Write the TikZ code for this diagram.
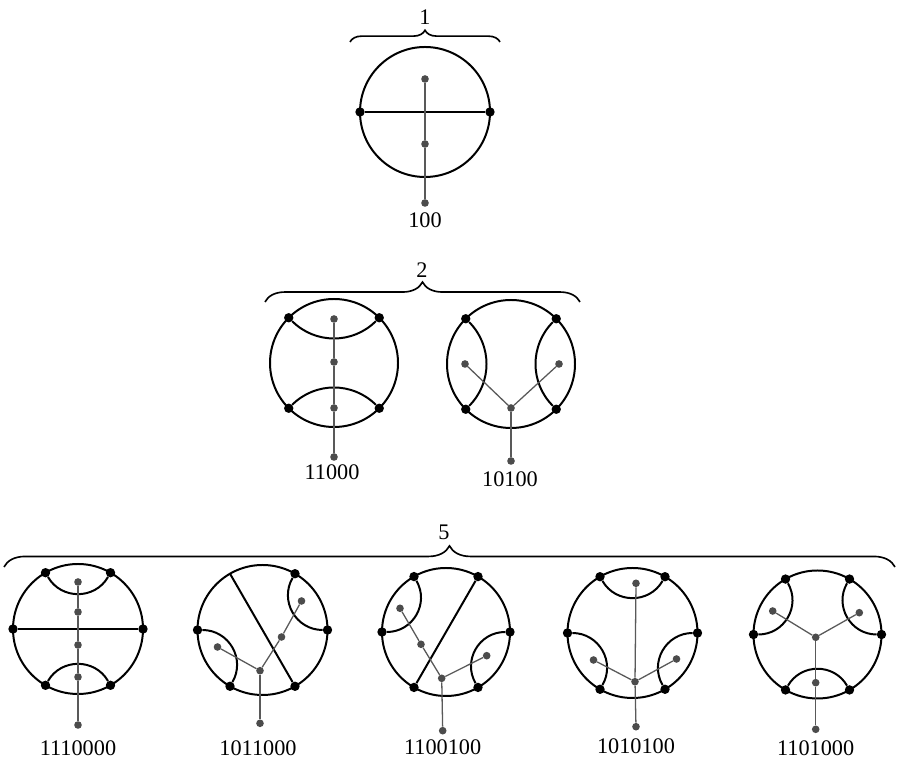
\documentclass[tikz,border=0pt]{standalone}
\usepackage{fontspec}
\setmainfont{Liberation Serif}
\usetikzlibrary{decorations.pathreplacing}

\begin{document}
\begin{tikzpicture}[
  x=0.03cm,y=0.03cm,
  rim/.style={line width=1.7pt},
  spot/.style={circle,fill=black,inner sep=0pt,minimum size=8pt},
  knot/.style={circle,fill=black!70,inner sep=0pt,minimum size=6.5pt},
  twig/.style={black!65,line width=1.1pt},
  codelabel/.style={font=\fontsize{19}{22}\selectfont,inner sep=0pt},
  gather/.style={decorate,line width=1.4pt,decoration={brace,amplitude=#1}},
  geo45/.style={rim,bend left=45},
  geo60/.style={rim,bend left=60,looseness=1.13}
]
  \useasboundingbox (0,0) rectangle (899,763);

  % first row: one diagram
  \coordinate (g1-l) at (350,721);
  \coordinate (g1-r) at (500,721);
  \draw[gather=10pt] (g1-l) -- (g1-r);
  \node[codelabel] (g1) at (425,746) {1};

  \begin{scope}[shift={(425,651)}]
    \draw[rim] (0,0) circle[radius=65];
    \node[spot] (p100-w) at (180:65) {};
    \node[spot] (p100-e) at (0:65) {};
    \node[knot] (p100-up) at (0,33) {};
    \node[knot] (p100-dn) at (0,-32) {};
    \node[knot] (p100-root) at (0,-91) {};
    \node[codelabel] (p100) at (0,-108) {100};
  \end{scope}
  \draw[rim] (p100-w) -- (p100-e);
  \draw[twig] (p100-up) -- (p100-dn) -- (p100-root);

  % second row: two diagrams
  \coordinate (g2-l) at (265,461);
  \coordinate (g2-r) at (580,461);
  \draw[gather=17pt] (g2-l) -- (g2-r);
  \node[codelabel] (g2) at (422,493) {2};

  \begin{scope}[shift={(334,400)}]
    \draw[rim] (0,0) circle[radius=64];
    \node[spot] (p11000-45) at (45:64) {};
    \node[spot] (p11000-135) at (135:64) {};
    \node[spot] (p11000-225) at (225:64) {};
    \node[spot] (p11000-315) at (315:64) {};
    \node[knot] (p11000-a) at (0,44) {};
    \node[knot] (p11000-b) at (0,1) {};
    \node[knot] (p11000-c) at (0,-45) {};
    \node[knot] (p11000-root) at (0,-94) {};
    \node[codelabel] (p11000) at (-2,-109) {11000};
  \end{scope}
  \draw[geo45] (p11000-45) to (p11000-135);
  \draw[geo45] (p11000-225) to (p11000-315);
  \draw[twig] (p11000-a) -- (p11000-b) -- (p11000-c) -- (p11000-root);

  \begin{scope}[shift={(511,399)}]
    \draw[rim] (0,0) circle[radius=64];
    \node[spot] (p10100-45) at (45:64) {};
    \node[spot] (p10100-135) at (135:64) {};
    \node[spot] (p10100-225) at (225:64) {};
    \node[spot] (p10100-315) at (315:64) {};
    \node[knot] (p10100-hub) at (0,-44) {};
    \node[knot] (p10100-l) at (-46,0) {};
    \node[knot] (p10100-r) at (48,0) {};
    \node[knot] (p10100-root) at (0,-97) {};
    \node[codelabel] (p10100) at (-1,-115) {10100};
  \end{scope}
  \draw[geo45] (p10100-135) to (p10100-225);
  \draw[geo45] (p10100-315) to (p10100-45);
  \draw[twig] (p10100-l) -- (p10100-hub) -- (p10100-r);
  \draw[twig] (p10100-hub) -- (p10100-root);

  % third row: five diagrams
  \coordinate (g5-l) at (4,196);
  \coordinate (g5-r) at (895,196);
  \draw[gather=18pt] (g5-l) -- (g5-r);
  \node[codelabel] (g5) at (444,231) {5};

  \begin{scope}[shift={(78,134)}]
    \draw[rim] (0,0) circle[radius=65];
    \node[spot] (p1110000-0) at (0:65) {};
    \node[spot] (p1110000-60) at (60:65) {};
    \node[spot] (p1110000-120) at (120:65) {};
    \node[spot] (p1110000-180) at (180:65) {};
    \node[spot] (p1110000-240) at (240:65) {};
    \node[spot] (p1110000-300) at (300:65) {};
    \node[knot] (p1110000-a) at (0,47) {};
    \node[knot] (p1110000-b) at (0,17) {};
    \node[knot] (p1110000-c) at (0,-16) {};
    \node[knot] (p1110000-d) at (0,-48) {};
    \node[knot] (p1110000-root) at (0,-96) {};
    \node[codelabel] (p1110000) at (0,-119) {1110000};
  \end{scope}
  \draw[rim] (p1110000-180) -- (p1110000-0);
  \draw[geo60] (p1110000-60) to (p1110000-120);
  \draw[geo60] (p1110000-240) to (p1110000-300);
  \draw[twig] (p1110000-a) -- (p1110000-b) -- (p1110000-c) -- (p1110000-d) -- (p1110000-root);

  \begin{scope}[shift={(262.5,133)}]
    \draw[rim] (0,0) circle[radius=65];
    \node[spot] (p1011000-0) at (0:65) {};
    \node[spot] (p1011000-60) at (60:65) {};
    \coordinate (p1011000-120) at (120:65);
    \node[spot] (p1011000-180) at (180:65) {};
    \node[spot] (p1011000-240) at (240:65) {};
    \node[spot] (p1011000-300) at (300:65) {};
    \node[knot] (p1011000-hub) at (-2.5,-40.7) {};
    \node[knot] (p1011000-l) at (-45,-17) {};
    \node[knot] (p1011000-m) at (19,-7) {};
    \node[knot] (p1011000-r) at (39,29) {};
    \node[knot] (p1011000-root) at (-2.5,-93.3) {};
    \node[codelabel] (p1011000) at (-4.5,-118) {1011000};
  \end{scope}
  \draw[rim] (p1011000-120) -- (p1011000-300);
  \draw[geo60] (p1011000-0) to (p1011000-60);
  \draw[geo60] (p1011000-180) to (p1011000-240);
  \draw[twig] (p1011000-l) -- (p1011000-hub) -- (p1011000-m) -- (p1011000-r);
  \draw[twig] (p1011000-hub) -- (p1011000-root);

  \begin{scope}[shift={(446,131)}]
    \draw[rim] (0,0) circle[radius=64];
    \node[spot] (p1100100-0) at (0:64) {};
    \node[spot] (p1100100-60) at (60:64) {};
    \node[spot] (p1100100-120) at (120:64) {};
    \node[spot] (p1100100-180) at (180:64) {};
    \node[spot] (p1100100-240) at (240:64) {};
    \node[spot] (p1100100-300) at (300:64) {};
    \node[knot] (p1100100-l) at (-46,23.7) {};
    \node[knot] (p1100100-m) at (-25,-12.3) {};
    \node[knot] (p1100100-hub) at (-4.3,-46.3) {};
    \node[knot] (p1100100-r) at (40.7,-23.7) {};
    \node[knot] (p1100100-root) at (-3.3,-98.7) {};
    \node[codelabel] (p1100100) at (-3.3,-115) {1100100};
  \end{scope}
  \draw[rim] (p1100100-60) -- (p1100100-240);
  \draw[geo60] (p1100100-120) to (p1100100-180);
  \draw[geo60] (p1100100-300) to (p1100100-0);
  \draw[twig] (p1100100-l) -- (p1100100-m) -- (p1100100-hub) -- (p1100100-r);
  \draw[twig] (p1100100-hub) -- (p1100100-root);

  \begin{scope}[shift={(632.5,130)}]
    \draw[rim] (0,0) circle[radius=65];
    \node[spot] (p1010100-0) at (0:65) {};
    \node[spot] (p1010100-60) at (60:65) {};
    \node[spot] (p1010100-120) at (120:65) {};
    \node[spot] (p1010100-180) at (180:65) {};
    \node[spot] (p1010100-240) at (240:65) {};
    \node[spot] (p1010100-300) at (300:65) {};
    \node[knot] (p1010100-top) at (3.5,49.7) {};
    \node[knot] (p1010100-hub) at (2.5,-48.7) {};
    \node[knot] (p1010100-l) at (-39,-27) {};
    \node[knot] (p1010100-r) at (44,-26) {};
    \node[knot] (p1010100-root) at (3.5,-93.7) {};
    \node[codelabel] (p1010100) at (3.5,-113) {1010100};
  \end{scope}
  \draw[geo60] (p1010100-60) to (p1010100-120);
  \draw[geo60] (p1010100-180) to (p1010100-240);
  \draw[geo60] (p1010100-300) to (p1010100-0);
  \draw[twig] (p1010100-top) -- (p1010100-hub) -- (p1010100-root);
  \draw[twig] (p1010100-l) -- (p1010100-hub) -- (p1010100-r);

  \begin{scope}[shift={(817.5,128.5)}]
    \draw[rim] (0,0) circle[radius=64];
    \node[spot] (p1101000-0) at (0:64) {};
    \node[spot] (p1101000-60) at (60:64) {};
    \node[spot] (p1101000-120) at (120:64) {};
    \node[spot] (p1101000-180) at (180:64) {};
    \node[spot] (p1101000-240) at (240:64) {};
    \node[spot] (p1101000-300) at (300:64) {};
    \node[knot] (p1101000-hub) at (-1.8,-2.8) {};
    \node[knot] (p1101000-l) at (-44.8,23.5) {};
    \node[knot] (p1101000-r) at (41.8,21.8) {};
    \node[knot] (p1101000-dn) at (-1.8,-48.2) {};
    \node[knot] (p1101000-root) at (-1.8,-94.8) {};
    \node[codelabel] (p1101000) at (-1.8,-113.5) {1101000};
  \end{scope}
  \draw[geo60] (p1101000-0) to (p1101000-60);
  \draw[geo60] (p1101000-120) to (p1101000-180);
  \draw[geo60] (p1101000-240) to (p1101000-300);
  \draw[twig] (p1101000-l) -- (p1101000-hub) -- (p1101000-r);
  \draw[twig] (p1101000-hub) -- (p1101000-dn) -- (p1101000-root);
\end{tikzpicture}
\end{document}
